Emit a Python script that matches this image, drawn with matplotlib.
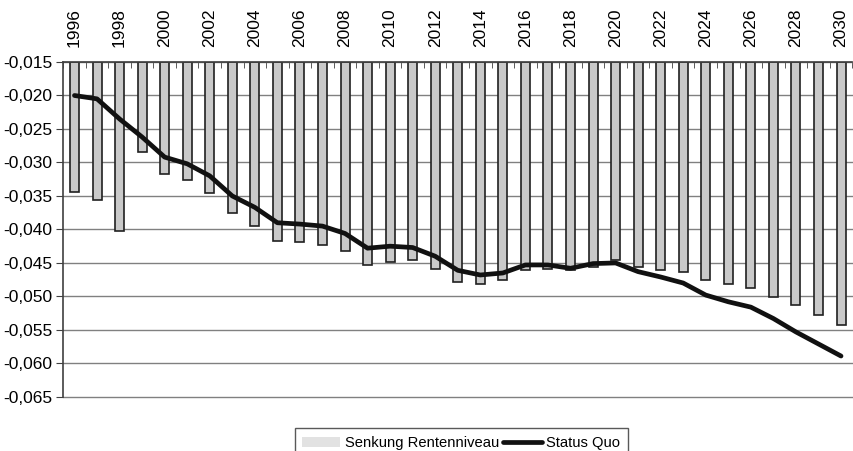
import numpy as np
import matplotlib.pyplot as plt
from matplotlib.ticker import FuncFormatter, MultipleLocator

plt.rcParams['font.family'] = ['Liberation Sans', 'DejaVu Sans']

# Jahre und Werte
years = list(range(1996, 2031))
senkung = [-0.0344, -0.0356, -0.0403, -0.0285, -0.0317, -0.0326, -0.0345,
           -0.0375, -0.0395, -0.0417, -0.0419, -0.0423, -0.0432, -0.0453,
           -0.0448, -0.0446, -0.0459, -0.0478, -0.0481, -0.0476, -0.0461,
           -0.0459, -0.0460, -0.0456, -0.0445, -0.0456, -0.0460, -0.0464,
           -0.0475, -0.0481, -0.0488, -0.0501, -0.0513, -0.0528, -0.0543]
status_quo = [-0.0200, -0.0205, -0.0235, -0.0262, -0.0292, -0.0302, -0.0320,
              -0.0350, -0.0367, -0.0390, -0.0392, -0.0395, -0.0406, -0.0428,
              -0.0425, -0.0427, -0.0440, -0.0461, -0.0468, -0.0465, -0.0453,
              -0.0453, -0.0458, -0.0451, -0.0450, -0.0463, -0.0471, -0.0480,
              -0.0498, -0.0508, -0.0516, -0.0533, -0.0553, -0.0571, -0.0589]
basis = -0.015

x = np.arange(len(years))

fig = plt.figure(figsize=(8.54, 4.51), dpi=100)
ax = fig.add_axes([0.074, 0.12, 0.924, 0.7425])

ax.yaxis.grid(True, color='#808080', lw=1.0)
ax.set_axisbelow(True)
for gl in ax.get_ygridlines():
    gl.set_clip_on(False)

bars = ax.bar(x, np.array(senkung) - basis, bottom=basis, width=0.4,
              color='#c9c9c9', edgecolor='#202020', lw=1.2,
              label='Senkung Rentenniveau', zorder=2)
line, = ax.plot(x, status_quo, color='#111111', lw=3.4, solid_joinstyle='round',
                solid_capstyle='round', label='Status Quo', zorder=3)

ax.set_xlim(-0.5, len(years) - 0.5)
ax.set_ylim(-0.065, -0.015)
ax.yaxis.set_major_locator(MultipleLocator(0.005))
ax.yaxis.set_major_formatter(FuncFormatter(lambda v, p: f'{v:.3f}'.replace('.', ',')))

ax.xaxis.tick_top()
ax.set_xticks(x[::2])
ax.set_xticklabels([str(y) for y in years[::2]], rotation=90, fontsize=12.5)
ax.set_xticks(np.arange(len(years) + 1) - 0.5, minor=True)
ax.tick_params(axis='x', which='major', length=0, pad=11)
ax.tick_params(axis='x', which='minor', direction='in', length=4, color='#404040')
ax.tick_params(axis='y', labelsize=12.5, length=5, color='#404040', pad=3)

for s in ['right', 'bottom']:
    ax.spines[s].set_visible(False)
ax.spines['left'].set_color('#404040')
ax.spines['top'].set_color('#404040')
ax.spines['left'].set_linewidth(1.2)
ax.spines['top'].set_linewidth(1.2)

leg = fig.legend([bars, line], ['Senkung Rentenniveau', 'Status Quo'],
                 loc='lower center', bbox_to_anchor=(0.54, -0.03), ncol=2,
                 frameon=True, fancybox=False, edgecolor='#303030',
                 fontsize=10.6, handlelength=2.6, handletextpad=0.3,
                 columnspacing=0.3, borderpad=0.5)
leg.get_frame().set_linewidth(1.0)
h = leg.legend_handles[0]
h.set_edgecolor('none')
h.set_facecolor('#e2e2e2')

fig.savefig('out.png', dpi=100)
